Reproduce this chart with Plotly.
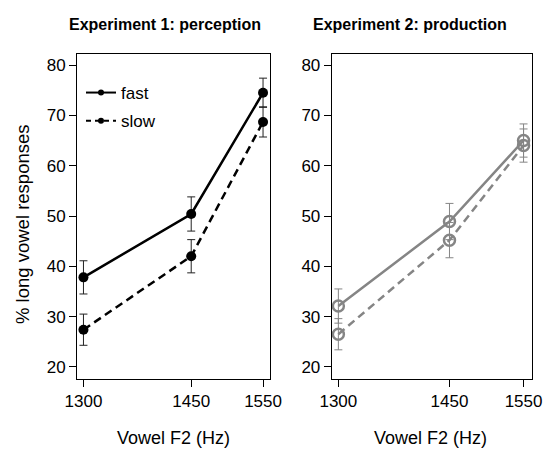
import plotly.graph_objects as go

# Data
f2 = [1300, 1450, 1550]
exp1_fast = [37.8, 50.4, 74.5]
exp1_fast_err = [3.3, 3.4, 2.9]
exp1_slow = [27.4, 42.0, 68.7]
exp1_slow_err = [3.1, 3.3, 3.0]
exp2_fast = [32.1, 48.9, 65.0]
exp2_fast_err = [3.4, 3.6, 3.3]
exp2_slow = [26.5, 45.2, 64.0]
exp2_slow_err = [3.1, 3.5, 3.3]
y_ticks = [20, 30, 40, 50, 60, 70, 80]

W, H = 549, 449
FONT = "Liberation Sans, Arial, sans-serif"
GRAY = "#858585"
DASH = "8px,5px"

fig = go.Figure()

def err(arr, color):
    return dict(type="data", array=arr, visible=True, thickness=1, width=4, color=color)

# Left panel
fig.add_trace(go.Scatter(x=f2, y=exp1_fast, mode="lines+markers", xaxis="x", yaxis="y",
                         line=dict(color="black", width=2.5),
                         marker=dict(color="black", size=10),
                         error_y=err(exp1_fast_err, "#222222"), showlegend=False))
fig.add_trace(go.Scatter(x=f2, y=exp1_slow, mode="lines+markers", xaxis="x", yaxis="y",
                         line=dict(color="black", width=2.5, dash=DASH),
                         marker=dict(color="black", size=10),
                         error_y=err(exp1_slow_err, "#222222"), showlegend=False))
# Right panel
fig.add_trace(go.Scatter(x=f2, y=exp2_fast, mode="lines+markers", xaxis="x2", yaxis="y2",
                         line=dict(color=GRAY, width=2.5),
                         marker=dict(color=GRAY, size=11, symbol="circle-open",
                                     line=dict(color=GRAY, width=2.5)),
                         error_y=err(exp2_fast_err, GRAY), showlegend=False))
fig.add_trace(go.Scatter(x=f2, y=exp2_slow, mode="lines+markers", xaxis="x2", yaxis="y2",
                         line=dict(color=GRAY, width=2.5, dash=DASH),
                         marker=dict(color=GRAY, size=11, symbol="circle-open",
                                     line=dict(color=GRAY, width=2.5)),
                         error_y=err(exp2_slow_err, GRAY), showlegend=False))
# Legend entries
fig.add_trace(go.Scatter(x=[None], y=[None], mode="lines+markers", name="fast", legendgroup="fast",
                         line=dict(color="black", width=2), marker=dict(color="black", size=6)))
fig.add_trace(go.Scatter(x=[None], y=[None], mode="lines+markers", name="slow", legendgroup="slow",
                         line=dict(color="black", width=2, dash="5px,4px"), marker=dict(color="black", size=6)))

def px_x(p):
    return p / W

def px_y(p):
    return 1 - p / H

axis_common = dict(showline=True, mirror=True, linecolor="black", linewidth=1,
                   ticks="outside", ticklen=7, tickwidth=1, tickcolor="black",
                   showgrid=False, zeroline=False, automargin=False,
                   tickfont=dict(size=17, color="black", family=FONT))

ydom = [px_y(379), px_y(54)]
TFONT = "Liberation Sans Narrow, Arial Narrow, " + FONT

def ann(text, x, y, size, family=FONT, angle=0):
    return dict(text=text, x=px_x(x), y=px_y(y), xref="paper", yref="paper",
                showarrow=False, xanchor="center", yanchor="middle", textangle=angle,
                font=dict(size=size, family=family, color="black"))

fig.update_layout(
    width=W, height=H,
    margin=dict(l=0, r=0, t=0, b=0),
    paper_bgcolor="white", plot_bgcolor="white",
    font=dict(family=FONT, color="black"),
    xaxis=dict(domain=[px_x(77), px_x(269.5)], range=[1291, 1559], tickvals=f2,
               anchor="y", **axis_common),
    yaxis=dict(domain=ydom, range=[17.6, 82.2], tickvals=y_ticks, anchor="x", **axis_common),
    xaxis2=dict(domain=[px_x(331.7), px_x(531.7)], range=[1291, 1561], tickvals=f2,
                anchor="y2", **axis_common),
    yaxis2=dict(domain=ydom, range=[17.6, 82.2], tickvals=y_ticks, anchor="x2", **axis_common),
    legend=dict(x=px_x(81), y=px_y(75), xanchor="left", yanchor="top",
                bgcolor="rgba(0,0,0,0)", font=dict(size=17, color="black"),
                itemwidth=30, tracegroupgap=3),
    annotations=[
        ann("<b>Experiment 1: perception</b>", 164.5, 24, 16, TFONT),
        ann("<b>Experiment 2: production</b>", 409.5, 24, 16, TFONT),
        ann("Vowel F2 (Hz)", 173, 438, 18),
        ann("Vowel F2 (Hz)", 430, 438, 18),
        ann("% long vowel responses", 22, 224, 18.5, angle=-90),
    ],
)

fig.write_html("out.html", config={"displayModeBar": False},
               post_script="document.body.style.margin='0';document.body.style.overflow='hidden';")
